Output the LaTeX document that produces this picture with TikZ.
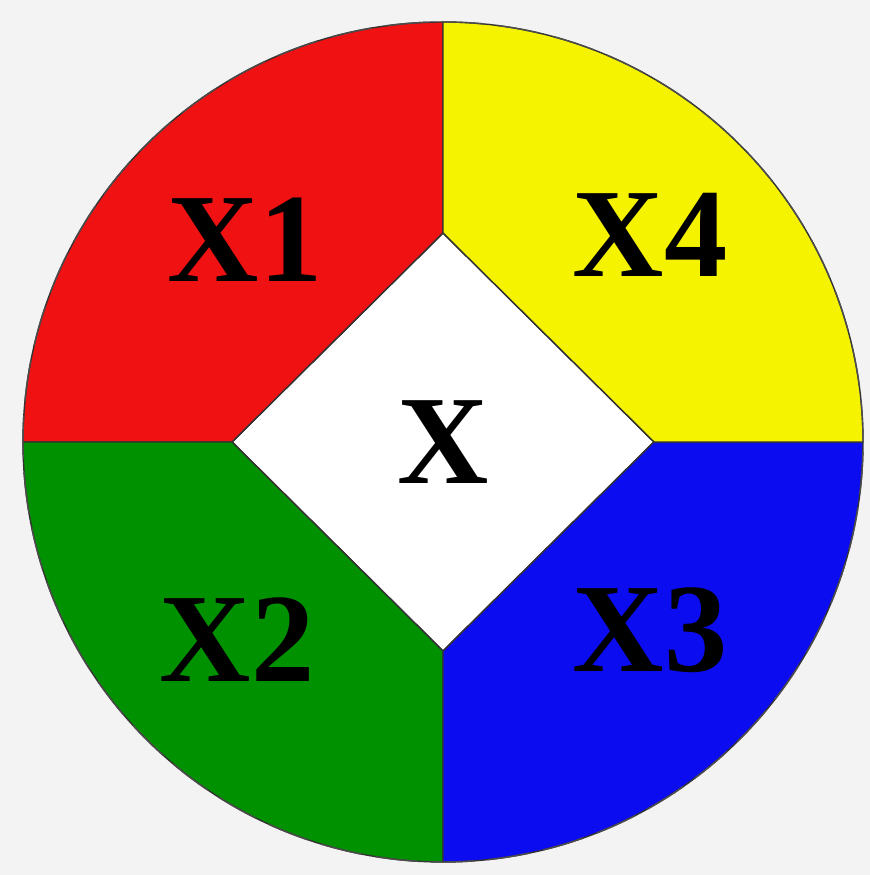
\documentclass[tikz,border=0pt]{standalone}
\usepackage{fontspec}
\setmainfont{Liberation Serif}
\usepackage{tikz}
\usetikzlibrary{shapes.geometric,calc}
\definecolor{whRed}    {RGB}{240, 18, 18}
\definecolor{whYellow} {RGB}{245,243,  0}
\definecolor{whGreen}  {RGB}{  0,145,  0}
\definecolor{whBlue}   {RGB}{ 12, 12,240}
\definecolor{whBack}   {RGB}{243,243,243}

\begin{document}
\begin{tikzpicture}[
  every node/.style={font=\fontsize{36}{40}\selectfont\bfseries},
  core/.style={shape=diamond,draw=black,fill=white,thin,inner sep=0pt,
               outer sep=0pt,minimum width=4.22cm,minimum height=4.18cm},
  sector/.style={draw=black!80,thin},
  rim/.style={draw=black!70,thin,dash pattern=on 12pt off 4pt}
]
\fill[whBack] (0,0) rectangle (8.7,8.75);
\useasboundingbox (0,0) rectangle (8.7,8.75);

\coordinate (C) at (4.43,4.33);
\node[core] (X) at (C) {X};

\fill[sector,fill=whRed]    (X.north) -- ($(C)+(0,4.2)$)
  arc[start angle=90,end angle=180,radius=4.2] -- (X.west) -- cycle;
\fill[sector,fill=whGreen]  (X.west) -- ($(C)+(-4.2,0)$)
  arc[start angle=180,end angle=270,radius=4.2] -- (X.south) -- cycle;
\fill[sector,fill=whBlue]   (X.south) -- ($(C)+(0,-4.2)$)
  arc[start angle=270,end angle=360,radius=4.2] -- (X.east) -- cycle;
\fill[sector,fill=whYellow] (X.east) -- ($(C)+(4.2,0)$)
  arc[start angle=0,end angle=90,radius=4.2] -- (X.north) -- cycle;
\draw[rim] (C) circle[radius=4.2];

\node (X1) at (2.45,6.35) {X1};
\node (X4) at (6.50,6.40) {X4};
\node (X2) at (2.37,2.35) {X2};
\node (X3) at (6.50,2.45) {X3};
\end{tikzpicture}
\end{document}
